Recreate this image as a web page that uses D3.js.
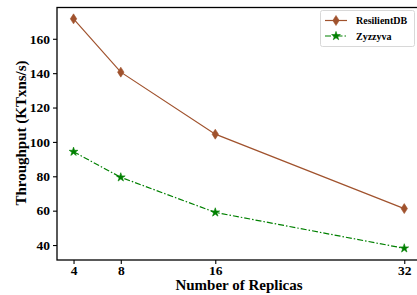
<!DOCTYPE html>
<html>
<head>
    <meta charset="UTF-8">
    <title>Throughput vs Replicas</title>
    <script src="https://d3js.org/d3.v7.min.js"></script>
    <style>
        body { margin: 0; background: #fff; }
        svg { display: block; overflow: hidden; }
        text { font-family: "Liberation Serif", "Times New Roman", serif; font-weight: bold; }
    </style>
</head>
<body>
    <svg id="chart"></svg>

    <script>
    const replicas = [4, 8, 16, 32];
    const resilientdb = [171.6, 140.6, 104.5, 61.2];
    const zyzzyva = [94.3, 79.4, 59.0, 38.1];
    const yTicks = [40, 60, 80, 100, 120, 140, 160];

    const width = 417;
    const height = 295;
    const plot = {left: 57, top: 7.5, right: 420.8, bottom: 260};

    const svg = d3.select("#chart")
      .attr("width", width)
      .attr("height", height);

    const x_scale = d3.scaleLinear()
      .domain([2.6, 33.4])
      .range([plot.left, plot.right]);

    const y_scale = d3.scaleLinear()
      .domain([31.3, 178.2])
      .range([plot.bottom, plot.top]);

    // frame (right side runs off the picture like the original)
    svg.append("rect")
      .attr("x", plot.left)
      .attr("y", plot.top)
      .attr("width", plot.right - plot.left)
      .attr("height", plot.bottom - plot.top)
      .attr("fill", "none")
      .attr("stroke", "#000")
      .attr("stroke-width", 1.3);

    // axes
    const xAxis = svg.append("g")
      .attr("transform", `translate(0, ${plot.bottom})`)
      .call(d3.axisBottom(x_scale).tickValues(replicas).tickSize(4).tickPadding(1.5));

    const yAxis = svg.append("g")
      .attr("transform", `translate(${plot.left}, 0)`)
      .call(d3.axisLeft(y_scale).tickValues(yTicks).tickSize(4).tickPadding(3));

    [xAxis, yAxis].forEach(a => {
      a.select(".domain").remove();
      a.selectAll("line").attr("stroke", "#000").attr("stroke-width", 1.1);
      a.selectAll("text")
        .attr("fill", "#000")
        .style("font-size", "13.5px")
        .style("font-family", "'Liberation Serif', serif")
        .style("font-weight", "bold");
    });

    // axis labels
    svg.append("text")
      .attr("text-anchor", "middle")
      .attr("x", 239)
      .attr("y", 290)
      .style("font-size", "15px")
      .text("Number of Replicas");

    svg.append("text")
      .attr("text-anchor", "middle")
      .attr("transform", `translate(26, ${133})rotate(-90)`)
      .style("font-size", "15px")
      .text("Throughput (KTxns/s)");

    const series = [
      {name: "ResilientDB", values: resilientdb, color: "#a0522d", dash: null,
       symbol: "diamond"},
      {name: "Zyzzyva", values: zyzzyva, color: "#008000", dash: "6,2,1.5,2",
       symbol: "star"}
    ];

    function marker(g, s, cx, cy) {
      if (s.symbol === "diamond") {
        g.append("path")
          .attr("d", `M${cx},${cy - 5}L${cx + 3.2},${cy}L${cx},${cy + 5}L${cx - 3.2},${cy}Z`)
          .attr("fill", s.color)
          .attr("stroke", s.color)
          .attr("stroke-width", 0.6);
      } else {
        g.append("path")
          .attr("d", d3.symbol().type(d3.symbolStar).size(24)())
          .attr("transform", `translate(${cx},${cy})`)
          .attr("fill", s.color)
          .attr("stroke", s.color)
          .attr("stroke-width", 0.6);
      }
    }

    const line = d3.line()
      .x((d, i) => x_scale(replicas[i]))
      .y(d => y_scale(d));

    series.forEach(s => {
      const g = svg.append("g");
      g.append("path")
        .datum(s.values)
        .attr("d", line)
        .attr("fill", "none")
        .attr("stroke", s.color)
        .attr("stroke-width", 1.2)
        .attr("stroke-dasharray", s.dash);
      s.values.forEach((v, i) => marker(g, s, x_scale(replicas[i]), y_scale(v)));
    });

    // legend
    const legend = svg.append("g");
    legend.append("rect")
      .attr("x", 320.5)
      .attr("y", 10.5)
      .attr("width", 94)
      .attr("height", 36)
      .attr("rx", 2)
      .attr("fill", "#fff")
      .attr("stroke", "#d8d8d8")
      .attr("stroke-width", 1);

    series.forEach((s, i) => {
      const ly = 20.5 + i * 15.5;
      legend.append("line")
        .attr("x1", 325).attr("x2", 347)
        .attr("y1", ly).attr("y2", ly)
        .attr("stroke", s.color)
        .attr("stroke-width", 1.2)
        .attr("stroke-dasharray", s.dash);
      marker(legend, s, 336, ly);
      legend.append("text")
        .attr("x", 356)
        .attr("y", ly + 3.5)
        .style("font-size", "10px")
        .text(s.name);
    });
    </script>
</body>
</html>
